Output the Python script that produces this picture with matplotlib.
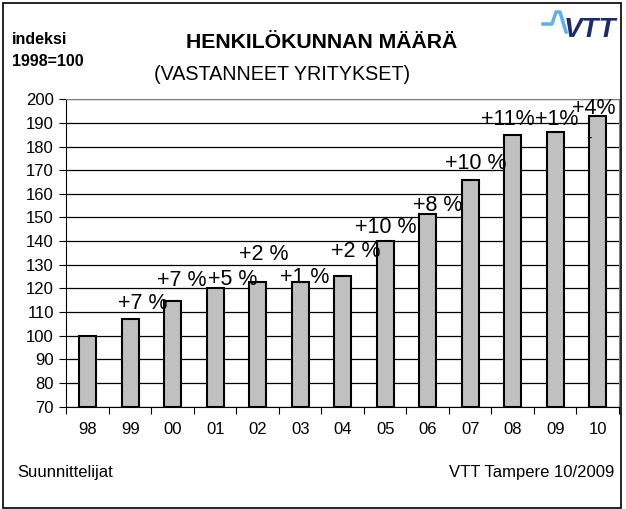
import matplotlib.pyplot as plt
from matplotlib.lines import Line2D
from matplotlib.patches import Rectangle

plt.rcParams['font.family'] = ['Liberation Sans', 'DejaVu Sans']

# data
years = ['98', '99', '00', '01', '02', '03', '04', '05', '06', '07', '08', '09', '10']
index_values = [100, 107, 114.5, 120, 122.7, 122.6, 125.3, 140, 151.5, 165.8, 184.8, 186, 193]
change_labels = ['', '+7 %', '+7 %', '+5 %', '+2 %', '+1 %', '+2 %', '+10 %', '+8 %',
                 '+10 %', '+11%', '+1%', '+4%']
yticks = list(range(70, 201, 10))

# label offsets from bar top (pixels), as placed in the original
label_offsets = [(0, 0), (13, 16), (9, 21), (17, 9), (6, 28), (4, 5), (13, 24),
                 (1, 14), (10, 8), (6, 17), (-5, 16), (1, 13), (-4, 7)]

fig = plt.figure(figsize=(6.26, 5.09), dpi=100)
ax = fig.add_axes([0.1062, 0.201, 0.8826, 0.604])

x = range(len(years))
ax.bar(x, [v - 70 for v in index_values], bottom=70, width=0.4,
       color='#c0c0c0', edgecolor='black', linewidth=1.5, zorder=3)

ax.set_xlim(-0.5, len(years) - 0.5)
ax.set_ylim(70, 200)
ax.set_yticks(yticks)
ax.set_yticklabels([str(t) for t in yticks], fontsize=12)
ax.grid(axis='y', color='black', linewidth=0.9, zorder=0)

# category ticks between bars, labels centred under bars
ax.set_xticks([i + 0.5 for i in range(-1, len(years))], minor=False)
ax.set_xticklabels([])
ax.set_xticks(list(x), minor=True)
ax.set_xticklabels(years, minor=True, fontsize=12)
ax.tick_params(axis='x', which='minor', length=0, pad=11)
ax.tick_params(axis='x', which='major', length=5, direction='out')
ax.tick_params(axis='y', length=5, direction='out', pad=4)

for side in ['top', 'right']:
    ax.spines[side].set_color('#808080')
for side in ['left', 'bottom']:
    ax.spines[side].set_color('black')

for i, (v, lab, off) in enumerate(zip(index_values, change_labels, label_offsets)):
    if lab:
        ax.annotate(lab, (i, v), xytext=off, textcoords='offset pixels',
                    ha='center', va='center', fontsize=15.5, zorder=4)
ax.annotate('-', (12, index_values[12]), xytext=(-9, -23), textcoords='offset pixels',
            ha='center', va='center', fontsize=12, zorder=4)

# titles and notes
fig.text(0.019, 1 - 40 / 509, 'indeksi', fontsize=11.5, fontweight='bold', va='center')
fig.text(0.019, 1 - 62 / 509, '1998=100', fontsize=11.5, fontweight='bold', va='center')
fig.text(0.514, 1 - 42 / 509, 'HENKILÖKUNNAN MÄÄRÄ', fontsize=15.3, fontweight='bold',
         ha='center', va='center')
fig.text(0.451, 1 - 75 / 509, '(VASTANNEET YRITYKSET)', fontsize=14.2,
         ha='center', va='center')
fig.text(0.028, 1 - 473 / 509, 'Suunnittelijat', fontsize=12, va='center')
fig.text(0.981, 1 - 473 / 509, 'VTT Tampere 10/2009', fontsize=12, ha='right', va='center')

# logo
px = [543, 552, 556, 560, 566]
py = [24, 24, 12, 12, 32]
fig.add_artist(Line2D([p / 626 for p in px], [1 - p / 509 for p in py],
                      color='#5fb0e5', linewidth=2.5))
fig.text(0.901, 1 - 30 / 509, 'VTT', fontsize=20, fontweight='heavy', style='italic',
         color='#1d2b6b', va='center', ha='left')

# frame around the slide
fig.add_artist(Rectangle((3 / 626, 0.002), 618 / 626, 1 - 3 / 509 - 0.002,
                         fill=False, edgecolor='black', linewidth=1.2,
                         transform=fig.transFigure))

fig.savefig('out.png', dpi=100)
